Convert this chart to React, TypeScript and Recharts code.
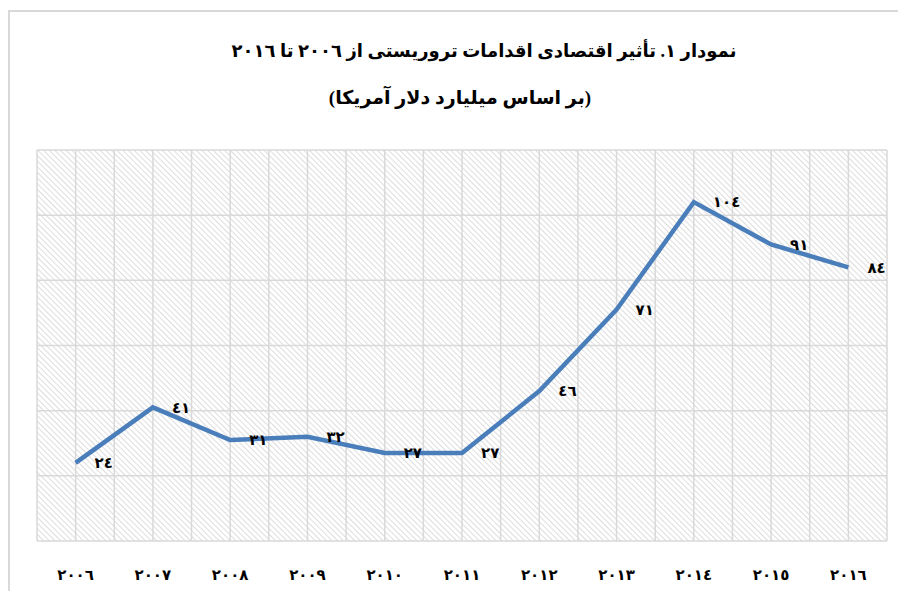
import React from 'react';
import { LineChart, Line, XAxis, YAxis, CartesianGrid, LabelList } from 'recharts';

const years = ['2006', '2007', '2008', '2009', '2010', '2011', '2012', '2013', '2014', '2015', '2016'];
const impact = [24, 41, 31, 32, 27, 27, 46, 71, 104, 91, 84];
const yTicks = [0, 20, 40, 60, 80, 100, 120];

const titleLine1 = 'نمودار ١. تأثیر اقتصادی اقدامات تروریستی از ٢٠٠٦ تا ٢٠١٦';
const titleLine2 = '(بر اساس میلیارد دلار آمریکا)';

const FA_DIGITS = '٠١٢٣٤٥٦٧٨٩';
const toArabicDigits = (v: string | number) =>
  String(v).replace(/[0-9]/g, d => FA_DIGITS[Number(d)]);

const data = years.map((y, i) => ({ year: y, value: impact[i] }));

const FONT = '"Liberation Serif", "DejaVu Sans", serif';
const GRID = '#d9d9d9';

const App: React.FC = () => {
  const vertical = ({ offset }: any) => {
    const cols = years.length * 2;
    return Array.from({ length: cols + 1 }, (_, i) => offset.left + (offset.width * i) / cols);
  };
  const horizontal = ({ offset }: any) => {
    const n = yTicks.length - 1;
    return yTicks.map((_, i) => offset.top + (offset.height * i) / n);
  };

  return (
    <div style={{ position: 'relative', width: 898, height: 583, overflow: 'hidden', fontFamily: FONT }}>
      <div
        style={{
          position: 'absolute', left: 0, top: 2, width: 940, height: 640,
          borderTop: `2px solid ${GRID}`, borderLeft: `2px solid ${GRID}`,
        }}
      />
      <div
        dir="rtl"
        style={{
          position: 'absolute', left: 0, width: 952, top: 28, textAlign: 'center',
          fontWeight: 'bold', fontSize: 18, color: '#000', lineHeight: '30px',
        }}
      >
        {titleLine1}
      </div>
      <div
        dir="rtl"
        style={{
          position: 'absolute', left: 0, width: 904, top: 75, textAlign: 'center',
          fontWeight: 'bold', fontSize: 19, color: '#000', lineHeight: '30px',
        }}
      >
        {titleLine2}
      </div>
      <div style={{ position: 'absolute', left: 0, top: 0 }}>
        <LineChart width={898} height={583} data={data} margin={{ top: 142, right: 19, left: 29, bottom: 0 }}>
          <defs>
            <pattern id="hatch" width="4" height="4" patternUnits="userSpaceOnUse" patternTransform="rotate(-45)">
              <line x1="0" y1="0" x2="0" y2="4" stroke="#d4d4d4" strokeWidth="1.6" />
            </pattern>
          </defs>
          <CartesianGrid
            stroke={GRID}
            strokeWidth={1.5}
            fill="url(#hatch)"
            fillOpacity={1}
            verticalCoordinatesGenerator={vertical}
            horizontalCoordinatesGenerator={horizontal}
          />
          <XAxis
            dataKey="year"
            height={50}
            axisLine={false}
            tickLine={false}
            tickMargin={22}
            padding={{ left: 38.6, right: 38.6 }}
            tickFormatter={toArabicDigits}
            tick={{ fill: '#000', fontSize: 15, fontWeight: 'bold', fontFamily: FONT }}
            interval={0}
          />
          <YAxis hide domain={[0, 120]} ticks={yTicks} />
          <Line
            type="linear"
            dataKey="value"
            stroke="#4a7ebb"
            strokeWidth={4.5}
            dot={false}
            isAnimationActive={false}
          >
            <LabelList
              dataKey="value"
              position="right"
              offset={19}
              formatter={(v: any) => toArabicDigits(v)}
              style={{ fill: '#000', fontSize: 15, fontWeight: 'bold', fontFamily: FONT }}
            />
          </Line>
        </LineChart>
      </div>
    </div>
  );
};

export default App;
